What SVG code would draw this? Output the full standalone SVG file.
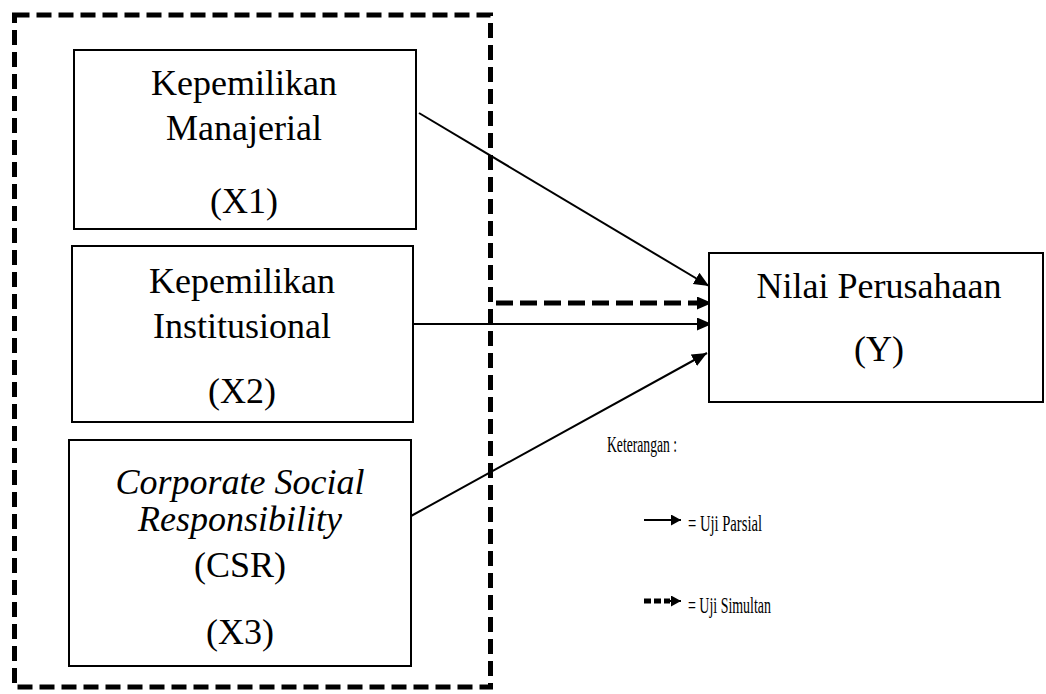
<svg xmlns="http://www.w3.org/2000/svg" width="1046" height="694" viewBox="0 0 1046 694">
<style>
.box{fill:#fff;stroke:#000;stroke-width:2}
.t{font-family:"Liberation Serif","Times New Roman",serif;font-size:36px;fill:#000;text-anchor:middle}
.it{font-style:italic}
.s{font-family:"Liberation Serif","Times New Roman",serif;font-size:23px;fill:#000}
.ln{stroke:#000;stroke-width:2;fill:none}
.dl{stroke:#000;stroke-width:5;fill:none;stroke-dasharray:17 7}
</style>
<defs>
<marker id="ah" markerUnits="userSpaceOnUse" markerWidth="16" markerHeight="14" refX="15" refY="6.5" orient="auto">
<path d="M0,0 L15,6.5 L0,13 z" fill="#000"/>
</marker>
<marker id="ahs" markerUnits="userSpaceOnUse" markerWidth="12" markerHeight="12" refX="10" refY="5.5" orient="auto">
<path d="M0,0 L10,5.5 L0,11 z" fill="#000"/>
</marker>
</defs>
<rect x="0" y="0" width="1046" height="694" fill="#fff"/>
<g id="group-border">
<rect x="14.5" y="15" width="476" height="672" fill="none" stroke="#000" stroke-width="5" stroke-dasharray="15 7"/>
</g>
<g id="connectors">
<line class="ln" x1="419" y1="113" x2="709" y2="286" marker-end="url(#ah)"/>
<line class="dl" x1="496" y1="303" x2="712" y2="303" marker-end="url(#ah)"/>
<line class="ln" x1="413" y1="324" x2="712" y2="324" marker-end="url(#ah)"/>
<line class="ln" x1="411" y1="516" x2="707" y2="353" marker-end="url(#ah)"/>
</g>
<g id="node-x1">
<rect class="box" x="74" y="50" width="342" height="179"/>
<text class="t" x="244" y="95">Kepemilikan</text>
<text class="t" x="244" y="140">Manajerial</text>
<text class="t" x="244" y="213">(X1)</text>
</g>
<g id="node-x2">
<rect class="box" x="72" y="246" width="341" height="176"/>
<text class="t" x="242" y="293">Kepemilikan</text>
<text class="t" x="242" y="338">Institusional</text>
<text class="t" x="242" y="403">(X2)</text>
</g>
<g id="node-x3">
<rect class="box" x="69" y="440" width="342" height="226"/>
<text class="t it" x="240" y="494">Corporate Social</text>
<text class="t it" x="240" y="531">Responsibility</text>
<text class="t" x="240" y="577">(CSR)</text>
<text class="t" x="240" y="644">(X3)</text>
</g>
<g id="node-y">
<rect class="box" x="709" y="253" width="334" height="149"/>
<text class="t" x="879" y="298">Nilai Perusahaan</text>
<text class="t" x="879" y="361">(Y)</text>
</g>
<g id="legend">
<text class="s" x="607" y="452" textLength="70" lengthAdjust="spacingAndGlyphs">Keterangan :</text>
<line x1="644" y1="520" x2="681" y2="520" stroke="#000" stroke-width="2" marker-end="url(#ahs)"/>
<text class="s" x="688" y="531" textLength="74" lengthAdjust="spacingAndGlyphs">= Uji Parsial</text>
<line x1="644" y1="601" x2="670" y2="601" stroke="#000" stroke-width="5" stroke-dasharray="7 3"/>
<line x1="670" y1="601" x2="681" y2="601" stroke="#000" stroke-width="2" marker-end="url(#ahs)"/>
<text class="s" x="688" y="613" textLength="83" lengthAdjust="spacingAndGlyphs">= Uji Simultan</text>
</g>
</svg>
